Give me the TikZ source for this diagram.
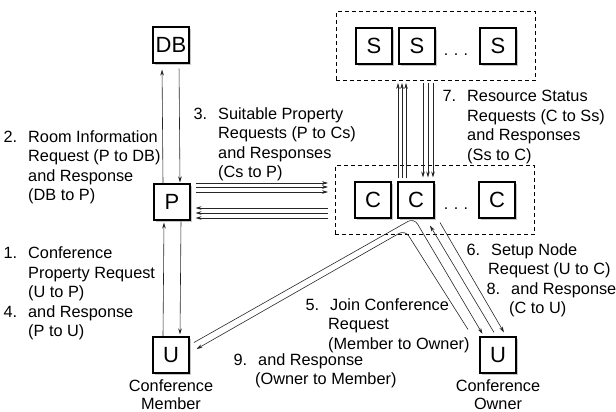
\documentclass[tikz,border=0pt]{standalone}
\usepackage{fontspec}
\setmainfont{Liberation Sans}
\usetikzlibrary{arrows.meta,positioning,fit,shadows}
\newcommand{\itm}[1]{\llap{#1\hspace{11pt}}}
\begin{document}
\begin{tikzpicture}[
    x=1pt, y=-1pt,
    box/.style={draw=black, fill=white, line width=1.1pt, minimum size=36pt, inner sep=0pt,
                font=\fontsize{22}{24}\selectfont,
                drop shadow={shadow xshift=2pt, shadow yshift=-2pt, opacity=0.45}},
    grp/.style={draw=black, dashed, dash pattern=on 4pt off 3pt, line width=0.9pt, inner xsep=19pt, inner ysep=16pt},
    arr/.style={-{Stealth[length=6pt,width=3.6pt]}, draw=black!85, line width=0.6pt},
    lbl/.style={anchor=north west, inner sep=0pt, align=left, font=\fontsize{16.3}{19.5}\selectfont},
    captxt/.style={inner sep=0pt, align=center, font=\fontsize{16.3}{17.5}\selectfont}
]
\useasboundingbox (0,0) rectangle (616,412);

% Wezly: baza danych, serwer P, uzytkownicy
\node[box] (db) at (171,45) {DB};
\node[box] (p) at (172,202) {P};
\node[box] (um) at (171,355) {U};
\node[box] (uo) at (498,355) {U};

% Wezly S i C
\node[box] (s1) at (374,46) {S};
\node[box] (s2) at (417,46) {S};
\node[box] (s3) at (498,46) {S};
\node[box] (c1) at (373,200) {C};
\node[box] (c2) at (416,200) {C};
\node[box] (c3) at (497,200) {C};
\node[anchor=base, font=\fontsize{16}{19.5}\selectfont] (sdots) at (456,56) {.\hspace{5.5pt}.\hspace{5.5pt}.};
\node[anchor=base, font=\fontsize{16}{19.5}\selectfont] (cdots) at (456,209) {.\hspace{5.5pt}.\hspace{5.5pt}.};

% Grupy
\node[grp, fit=(s1) (s3)] (sgrp) {};
\node[grp, fit=(c1) (c3)] (cgrp) {};

% P <-> DB
\draw[arr, shorten >=6pt] ([xshift=-9pt]p.north) -- ([xshift=-9pt]db.south);
\draw[arr, shorten <=5pt, shorten >=1pt] ([xshift=8pt]db.south) -- ([xshift=8pt]p.north);

% U <-> P
\draw[arr, shorten >=2pt] ([xshift=-8pt]um.north) -- ([xshift=-8pt]p.south);
\draw[arr, shorten <=1pt, shorten >=2pt] ([xshift=9pt]p.south) -- ([xshift=9pt]um.north);

% P <-> Cs
\foreach \dy in {19,15,10}
  \draw[arr, shorten <=5pt, shorten >=7pt] ([yshift=\dy pt]p.east) -- ([yshift=\dy pt]p.east -| cgrp.west);
\foreach \dy in {-6,-11,-16}
  \draw[arr, shorten <=7pt, shorten >=5pt] ([yshift=\dy pt]p.east -| cgrp.west) -- ([yshift=\dy pt]p.east);

% C <-> Ss
\foreach \dx in {-18,-14,-10}
  \draw[arr, shorten <=3pt, shorten >=2pt] ([xshift=\dx pt]c2.north) -- ([xshift=\dx pt]c2.north |- sgrp.south);
\foreach \dx in {7,12,17}
  \draw[arr, shorten <=2pt, shorten >=4pt] ([xshift=\dx pt]c2.north |- sgrp.south) -- ([xshift=\dx pt]c2.north);

% U (czlonek) <-> U (wlasciciel) przez C
\coordinate (jtop) at (414,218);
\coordinate (rtop) at (405,230);
\draw[arr, rounded corners=7pt, shorten <=5pt, shorten >=3pt] ([yshift=10pt]um.east) -- (jtop) -- ([xshift=-14pt]uo.north);
\draw[arr, rounded corners=7pt, shorten >=8pt] ([xshift=-30pt,yshift=7pt]uo.north) -- (rtop) -- ([yshift=2pt]um.east);

% U (wlasciciel) <-> C
\draw[arr] ([xshift=-4pt,yshift=4pt]uo.north) -- ([xshift=14pt,yshift=-7pt]c2.south);
\draw[arr] ([xshift=24pt,yshift=-4pt]c2.south) -- ([xshift=6pt,yshift=4pt]uo.north);

% Opisy
\node[lbl] (l2) at (28,130) {\itm{2.}Room Information\\Request (P to DB)\\and Response\\(DB to P)};
\node[lbl] (l1) at (28,247) {\itm{1.}Conference\\Property Request\\(U to P)\\\itm{4.}and Response\\(P to U)};
\node[lbl] (l3) at (218,107) {\itm{3.}Suitable Property\\Requests (P to Cs)\\and Responses\\(Cs to P)};
\node[lbl] (l7) at (467,90) {\itm{7.}Resource Status\\Requests (C to Ss)\\and Responses\\(Ss to C)};
\node[lbl] (l6) at (491,243) {\itm{6.}Setup Node\\\hspace*{-3pt}Request (U to C)\\\hspace*{20pt}\itm{8.}and Response\\\hspace*{18pt}(C to U)};
\node[lbl] (l5) at (330,298) {\itm{5.}Join Conference\\\hspace*{-2pt}Request\\\hspace*{-2pt}(Member to Owner)};
\node[lbl] (l9) at (258,353) {\itm{9.}and Response\\\hspace*{-3pt}(Owner to Member)};
\node[captxt, below=6pt of um] (cm) {Conference\\Member};
\node[captxt, below=6pt of uo] (co) {Conference\\Owner};

\end{tikzpicture}
\end{document}
